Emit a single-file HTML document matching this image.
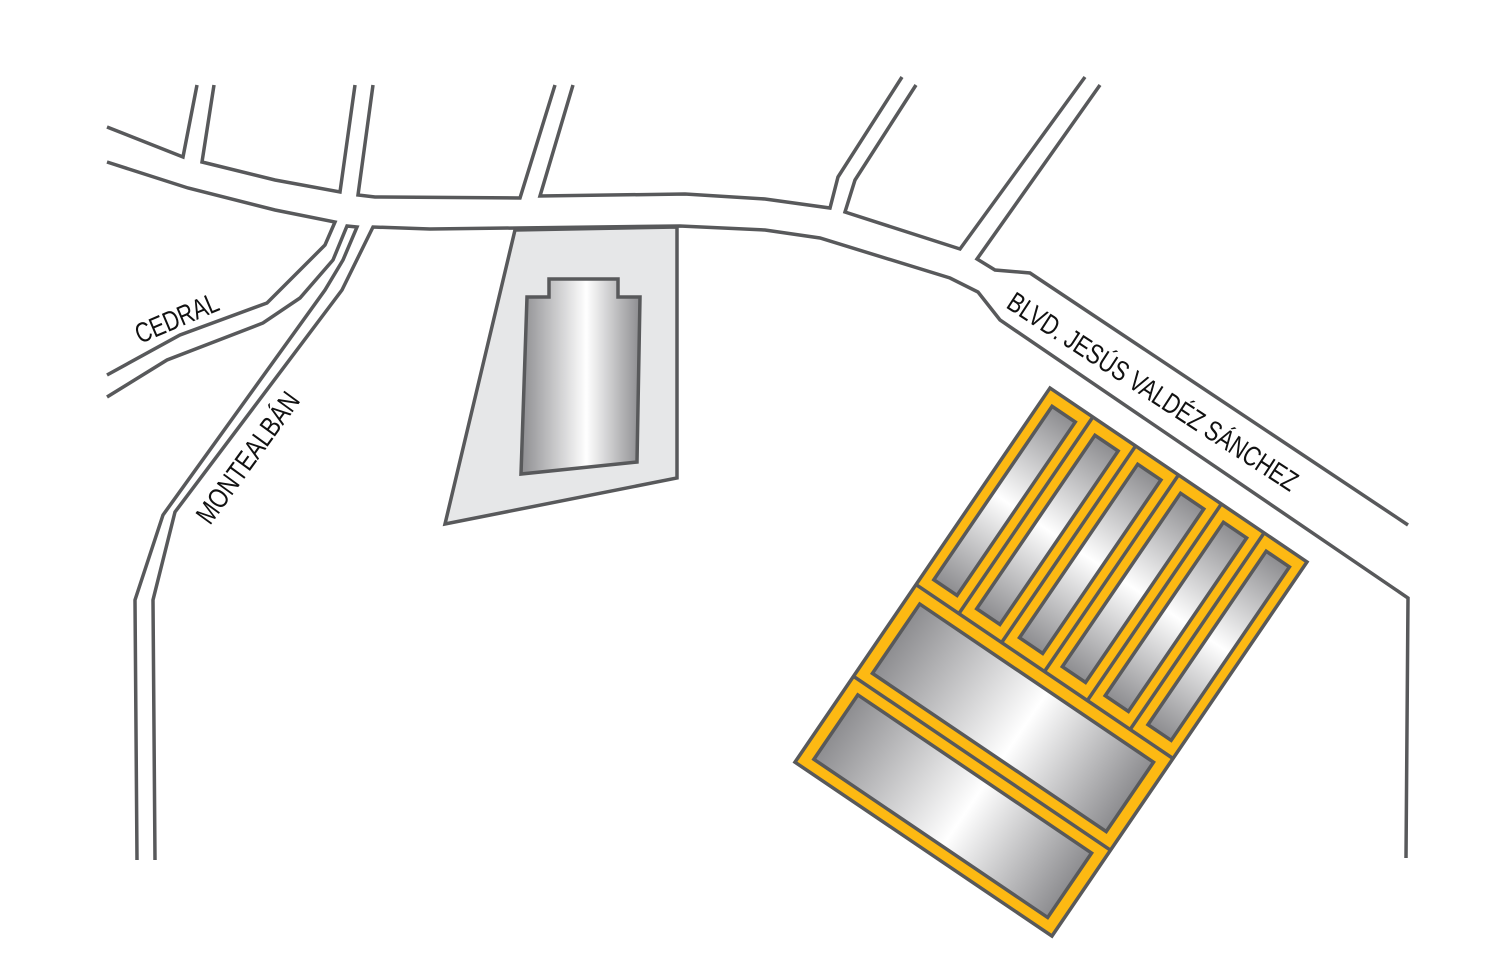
<!DOCTYPE html>
<html><head><meta charset="utf-8"><style>html,body{margin:0;padding:0;background:#fff}svg{display:block}</style></head>
<body>
<svg width="1500" height="963" viewBox="0 0 1500 963" xmlns="http://www.w3.org/2000/svg">
<defs>
<linearGradient id="gh" x1="0" y1="0" x2="1" y2="0">
<stop offset="0" stop-color="#8d8d90"/><stop offset="0.55" stop-color="#ffffff"/><stop offset="1" stop-color="#8d8d90"/></linearGradient>
<linearGradient id="gv" x1="0" y1="0" x2="0" y2="1">
<stop offset="0" stop-color="#8d8d90"/><stop offset="0.5" stop-color="#ffffff"/><stop offset="1" stop-color="#8d8d90"/></linearGradient>
</defs>
<g fill="none" stroke="#58595b" stroke-width="3.5" stroke-linejoin="miter">
<polyline points="107,127 183,157 197,85"/>
<polyline points="214,85 202,162 275,180 340,192 355,85"/>
<polyline points="373,85 358,195 375,197 520,198 555,85"/>
<polyline points="573,85 540,196 685,194 765,199 830,208 838,177 902,77"/>
<polyline points="916,85 855,180 845,212 960,249 1085,77"/>
<polyline points="1100,85 977,259 995,270 1030,273 1408,525"/>
<polyline points="107,162 188,188 275,210 335,222 325,245 300,270 267,303 180,335 107,375"/>
<polyline points="107,397 167,360 263,323 300,298 333,260 347,226 357,227 343,260 325,290 163,515 135,600 137,860"/>
<polyline points="155,860 153,600 175,512 342,290 373,227 430,229 680,226 765,230 820,238 950,278 978,292 1000,320 1408,598 1406,858"/>
</g>
<polygon points="515,230 677,227 677,478 445,524" fill="#e6e7e8" stroke="#58595b" stroke-width="3.5"/>
<polygon points="549,279 618,279 618,297 640,297 637,462 521,474 527,297 549,297" fill="url(#gh)" stroke="#58595b" stroke-width="3.5"/>
<g transform="matrix(0.829,0.561,-0.563,0.826,1050,388)" stroke="#58595b" stroke-width="3.5">
<rect x="0" y="0" width="310" height="453" fill="#fdb913"/>
<g fill="none">
<line x1="51.7" y1="0" x2="51.7" y2="238"/><line x1="103.3" y1="0" x2="103.3" y2="238"/><line x1="155" y1="0" x2="155" y2="238"/><line x1="206.7" y1="0" x2="206.7" y2="238"/><line x1="258.3" y1="0" x2="258.3" y2="238"/>
<line x1="0" y1="238" x2="310" y2="238"/><line x1="0" y1="349" x2="310" y2="349"/>
</g>
<g fill="url(#gv)">
<rect x="12" y="14" width="28" height="210"/><rect x="63.7" y="14" width="28" height="210"/><rect x="115.3" y="14" width="28" height="210"/><rect x="167" y="14" width="28" height="210"/><rect x="218.7" y="14" width="28" height="210"/><rect x="270.3" y="14" width="28" height="210"/>
</g>
<rect x="14" y="252" width="282" height="84" fill="url(#gh)"/>
<rect x="14" y="362" width="282" height="78" fill="url(#gh)"/>
</g>
<g font-family="'Liberation Sans Narrow','Liberation Sans',sans-serif" font-size="28" fill="#111">
<text transform="translate(1005,307) rotate(33)" textLength="340" lengthAdjust="spacingAndGlyphs">BLVD. JESÚS VALDÉZ SÁNCHEZ</text>
<text transform="translate(140,344) rotate(-23)" textLength="88" lengthAdjust="spacingAndGlyphs">CEDRAL</text>
<text transform="translate(210,526) rotate(-54)" textLength="155" lengthAdjust="spacingAndGlyphs">MONTEALBÁN</text>
</g>
</svg>
</body></html>
